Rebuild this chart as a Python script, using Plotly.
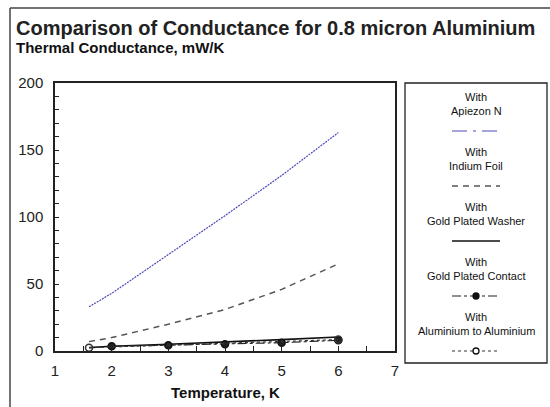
import plotly.graph_objects as go

# ---- data ----
temps = [1.6, 2, 3, 4, 5, 6]
apiezon_n = [33, 43, 72, 101, 131, 163]
indium_foil = [7, 10, 20, 31, 46, 65]
gold_washer = [2.5, 3.5, 5, 6.5, 8.5, 10.5]
contact_temps = [2, 3, 4, 5, 6]
gold_contact = [3.5, 4.3, 5.0, 6.2, 8.0]
alu_temps = [1.6, 6]
alu_alu = [2.5, 8.5]

series_names = ["Apiezon N", "Indium Foil", "Gold Plated Washer",
                "Gold Plated Contact", "Aluminium to Aluminium"]

x_ticks = [1, 2, 3, 4, 5, 6, 7]
y_ticks = [0, 50, 100, 150, 200]

W, H = 550, 407
L, R, T, B = 55, 395, 83, 351  # plot area in pixels


def px(x):
    return (x - L) / (R - L)


def py(y):
    return (B - y) / (B - T)


FONT = "Liberation Sans, Arial, sans-serif"

styles = [
    dict(color="#4a4ab8", width=1.2, dash="2px,1px", symbol=None, fill=None),
    dict(color="#555555", width=1.5, dash="6px,5px", symbol=None, fill=None),
    dict(color="#111111", width=1.6, dash="solid", symbol=None, fill=None),
    dict(color="#222222", width=1.2, dash="dashdot", symbol="circle", fill="#111111"),
    dict(color="#333333", width=1.2, dash="dot", symbol="circle-open", fill=None),
]

xs = [temps, temps, temps, contact_temps, alu_temps]
ys = [apiezon_n, indium_foil, gold_washer, gold_contact, alu_alu]

fig = go.Figure()
for name, x, y, st in zip(series_names, xs, ys, styles):
    mode = "lines+markers" if st["symbol"] else "lines"
    fig.add_trace(go.Scatter(
        x=x, y=y, mode=mode, name="With " + name,
        line=dict(color=st["color"], width=st["width"], dash=st["dash"]),
        marker=dict(symbol=st["symbol"] or "circle", size=7,
                    color=st["color"], line=dict(color="#111111", width=1.5)),
        showlegend=False,
    ))

shapes = []
annotations = []

# outer frame
shapes.append(dict(type="line", xref="paper", yref="paper",
                   x0=px(10), x1=px(10), y0=py(8), y1=py(420),
                   line=dict(color="#444444", width=1.5)))
shapes.append(dict(type="line", xref="paper", yref="paper",
                   x0=px(10), x1=px(560), y0=py(8), y1=py(8),
                   line=dict(color="#444444", width=1.5)))

# legend box
shapes.append(dict(type="rect", xref="paper", yref="paper",
                   x0=px(405), x1=px(547), y0=py(83), y1=py(363),
                   line=dict(color="#222222", width=1.3), fillcolor="white"))

cx = 476
for i, (name, st) in enumerate(zip(series_names, styles)):
    base = 97 + 55 * i
    annotations.append(dict(xref="paper", yref="paper", x=px(cx), y=py(base),
                            text="With", showarrow=False, xanchor="center",
                            yanchor="middle", font=dict(family=FONT, size=11, color="#111")))
    annotations.append(dict(xref="paper", yref="paper", x=px(cx), y=py(base + 14),
                            text=name, showarrow=False, xanchor="center",
                            yanchor="middle", font=dict(family=FONT, size=11, color="#111")))
    ly = base + 34
    shapes.append(dict(type="line", xref="paper", yref="paper",
                       x0=px(cx - 24), x1=px(cx + 24), y0=py(ly), y1=py(ly),
                       line=dict(color=st["color"], width=st["width"],
                                 dash=st["dash"] if i != 0 else "longdashdot")))
    if st["symbol"]:
        shapes.append(dict(type="circle", xref="paper", yref="paper",
                           x0=px(cx - 3), x1=px(cx + 3), y0=py(ly - 3), y1=py(ly + 3),
                           line=dict(color="#111111", width=1.3),
                           fillcolor=st["fill"] if st["fill"] else "white"))

# title + y axis title
annotations.append(dict(xref="paper", yref="paper", x=px(14), y=py(28),
                        text="<b>Comparison of Conductance for 0.8 micron Aluminium</b>",
                        showarrow=False, xanchor="left", yanchor="middle",
                        font=dict(family=FONT, size=20, color="#222")))
annotations.append(dict(xref="paper", yref="paper", x=px(14), y=py(48),
                        text="<b>Thermal Conductance, mW/K</b>",
                        showarrow=False, xanchor="left", yanchor="middle",
                        font=dict(family=FONT, size=15, color="#111")))
annotations.append(dict(xref="paper", yref="paper", x=px(225), y=py(392),
                        text="<b>Temperature, K</b>",
                        showarrow=False, xanchor="center", yanchor="middle",
                        font=dict(family=FONT, size=15, color="#111")))

fig.update_layout(
    width=W, height=H,
    margin=dict(l=L, r=W - R, t=T, b=H - B, pad=0),
    paper_bgcolor="white", plot_bgcolor="white",
    shapes=shapes, annotations=annotations,
    showlegend=False,
    xaxis=dict(range=[1, 7], tickvals=x_ticks, ticktext=[str(v) for v in x_ticks],
               ticks="inside", ticklen=5, tickwidth=1, tickcolor="#222",
               minor=dict(dtick=0.5, ticks="inside", ticklen=5, tickcolor="#222"),
               showgrid=False, zeroline=False, showline=True, linecolor="#222",
               linewidth=1.5, mirror=True, ticklabelstandoff=5,
               tickfont=dict(family=FONT, size=15, color="#222")),
    yaxis=dict(range=[0, 200], tickvals=y_ticks, ticktext=[str(v) for v in y_ticks],
               ticks="inside", ticklen=4, tickwidth=1, tickcolor="#222",
               minor=dict(dtick=10, ticks="inside", ticklen=4, tickcolor="#222"),
               showgrid=False, zeroline=False, showline=True, linecolor="#222",
               linewidth=1.5, mirror=True, ticklabelstandoff=7,
               tickfont=dict(family=FONT, size=15, color="#222")),
)

fig.write_html("out.html")
